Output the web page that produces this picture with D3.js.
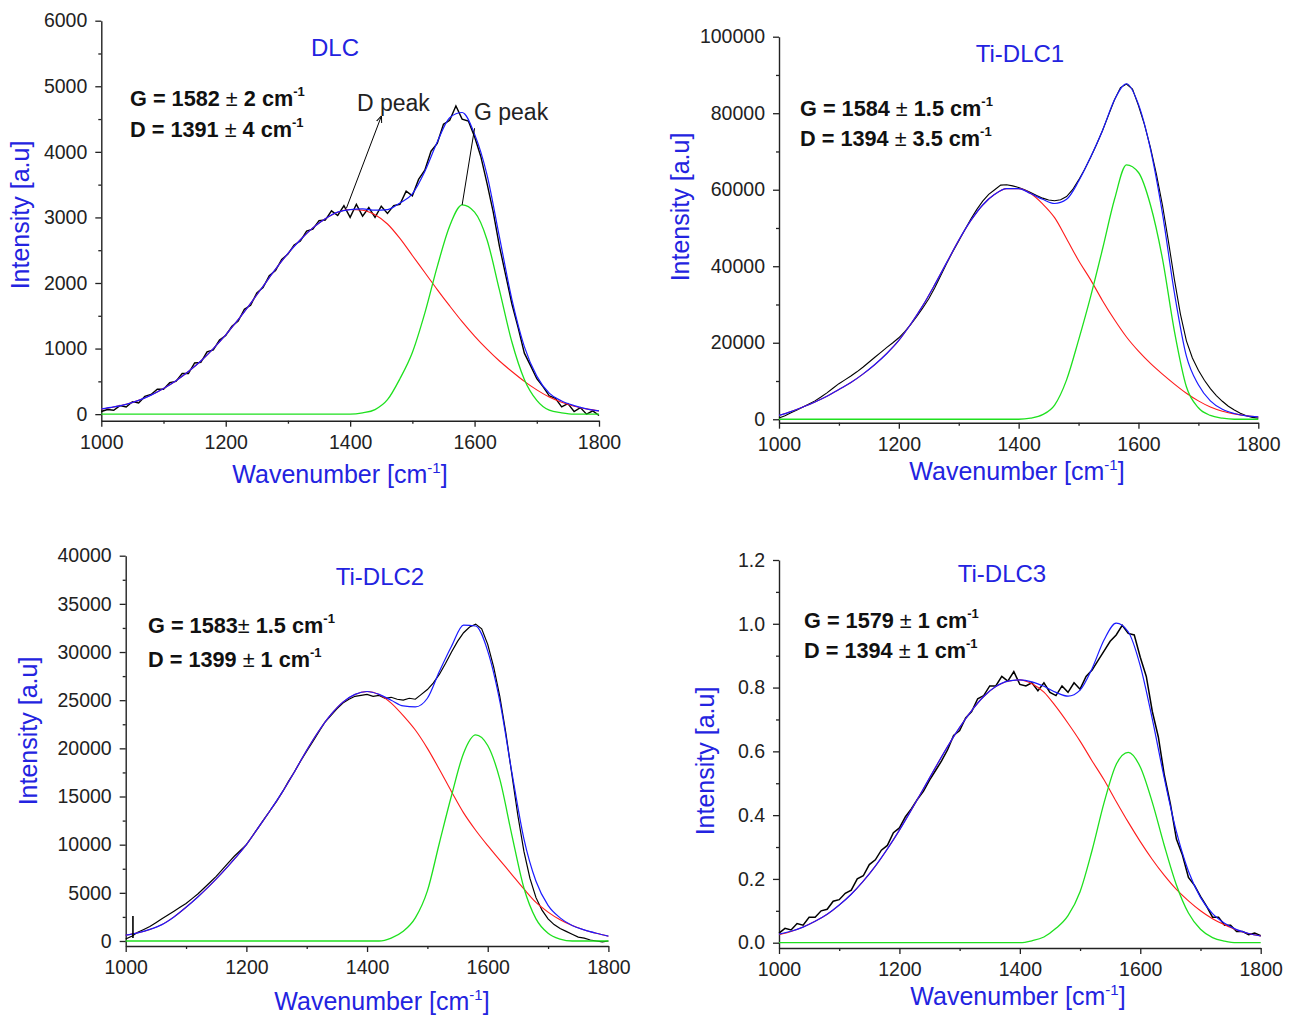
<!DOCTYPE html>
<html>
<head>
<meta charset="utf-8">
<script src="https://cdn.jsdelivr.net/npm/d3@7"></script>
<style>
  body { margin: 0; background: #fff; }
  svg { display: block; font-family: "Liberation Sans", Arial, sans-serif; }
</style>
</head>
<body>
<div class="canvas"></div>
<script>
// wavenumber grids (cm-1): fitted curves every 20, measured spectra every 10
const fitWave = d3.range(1000, 1801, 20);
const rawWave = d3.range(1000, 1801, 10);
const xTicks = [1000, 1200, 1400, 1600, 1800];
const xMinor = [1100, 1300, 1500, 1700];

// DLC
const dlcRaw = [40, 70, 60, 130, 110, 190, 170, 270, 300, 380,
  380, 480, 500, 620, 620, 780, 790, 950, 980, 1130,
  1200, 1340, 1420, 1600, 1660, 1850, 1930, 2110, 2190, 2360,
  2440, 2580, 2640, 2790, 2820, 2950, 2960, 3100, 3030, 3180,
  3000, 3200, 3020, 3150, 3000, 3170, 3060, 3180, 3200, 3400,
  3330, 3580, 3720, 4010, 4130, 4420, 4480, 4700, 4500, 4470,
  4230, 3930, 3520, 3080, 2560, 2120, 1680, 1320, 930, 740,
  540, 420, 280, 240, 110, 160, 40, 100, 0, 50,
  -20];
const dlcFit = [80, 110, 150, 210, 290, 390, 510, 650, 810, 1000, 1210, 1440, 1690, 1950, 2210, 2450, 2660, 2840, 2980, 3080, 3120,
  3130, 3110, 3120, 3220, 3360, 3700, 4150, 4520, 4600, 4270, 3650, 2700, 1750, 1030, 580, 320, 200, 130, 80, 50];
const dlcD = [80, 110, 150, 210, 290, 390, 510, 650, 810, 1000, 1210, 1440, 1690, 1950, 2210, 2450, 2660, 2840, 2980, 3080, 3120,
  3110, 3040, 2900, 2680, 2420, 2160, 1900, 1650, 1410, 1190, 990, 810, 650, 500, 370, 260, 180, 120, 80, 50];
const dlcG = [0, 0, 0, 0, 0, 0, 0, 0, 0, 0, 0, 0, 0, 0, 0, 0, 0, 0, 0, 0, 0,
  20, 70, 220, 540, 940, 1540, 2250, 2870, 3190, 3080, 2660, 1890, 1100, 530, 210, 60, 20, 0, 0, 0];
const dlcTicks = [0, 1000, 2000, 3000, 4000, 5000, 6000];
const dlcMinor = [500, 1500, 2500, 3500, 4500, 5500];

// Ti-DLC1
const ti1Raw = [300, 900, 1700, 2400, 3200, 4000, 4800, 5800, 6900, 8100,
  9300, 10300, 11300, 12400, 13600, 14900, 16200, 17500, 18800, 20000,
  21300, 22900, 24800, 26900, 29100, 31500, 34400, 37600, 40800, 43800,
  46600, 49500, 52300, 54800, 57000, 58800, 60000, 61200, 61300, 61000,
  60600, 60000, 59300, 58500, 57800, 57300, 57100, 57400, 58200, 60000,
  62500, 65300, 68400, 71800, 75500, 79500, 83500, 86700, 87600, 86300,
  82000, 77000, 71000, 64000, 56000, 46500, 36500, 27500, 20500, 16000,
  12800, 10200, 8000, 6200, 4700, 3400, 2400, 1600, 900, 500,
  300];
const ti1Fit = [1000, 2000, 3200, 4500, 6000, 7800, 9600, 11800, 14300, 17200, 20600, 24900, 29700, 35200, 41000, 46800, 51900, 56000, 58800, 60300, 60300,
  59000, 57500, 56400, 57500, 62200, 68500, 75500, 83500, 87700, 82300, 70600, 53800, 33000, 16500, 9000, 4800, 2600, 1500, 900, 600];
const ti1D = [1000, 2000, 3200, 4500, 6000, 7800, 9600, 11800, 14300, 17200, 20600, 24900, 29700, 35200, 41000, 46800, 51900, 56000, 58800, 60300, 60300,
  59000, 56300, 52700, 47200, 41500, 36500, 31000, 26000, 21500, 17800, 14600, 11800, 9200, 6800, 4800, 3200, 2100, 1400, 900, 600];
const ti1G = [0, 0, 0, 0, 0, 0, 0, 0, 0, 0, 0, 0, 0, 0, 0, 0, 0, 0, 0, 0, 0,
  300, 1200, 3700, 10300, 20700, 32000, 44500, 57500, 66500, 64500, 56000, 42000, 23000, 8500, 3000, 1000, 300, 0, 0, 0];
const ti1Ticks = [0, 20000, 40000, 60000, 80000, 100000];
const ti1Minor = [10000, 30000, 50000, 70000, 90000];

// Ti-DLC2
const ti2Raw = [200, 500, 900, 1200, 1500, 1900, 2300, 2700, 3100, 3500,
  3900, 4400, 4900, 5500, 6100, 6700, 7400, 8100, 8800, 9400,
  10000, 10900, 11800, 12700, 13600, 14500, 15500, 16600, 17600, 18700,
  19700, 20700, 21700, 22700, 23400, 24100, 24700, 25100, 25400, 25500,
  25600, 25400, 25500, 25200, 25300, 25100, 25000, 25200, 25100, 25600,
  26100, 26800, 27700, 28800, 30000, 31100, 32000, 32600, 32900, 32400,
  30800, 28400, 25400, 21600, 17300, 13000, 9300, 6500, 4500, 3200,
  2300, 1700, 1300, 1000, 700, 400, 300, 100, 0, -100,
  0];
const ti2Spike = [1012, 300, 2600];
const ti2Fit = [600, 850, 1200, 1700, 2500, 3500, 4600, 5800, 7100, 8500, 10000, 11800, 13600, 15500, 17600, 19800, 21800, 23500, 24800, 25600, 25900,
  25600, 25000, 24400, 24300, 25200, 28000, 30600, 32800, 32700, 30100, 24900, 17500, 10600, 6200, 3700, 2400, 1600, 1150, 800, 500];
const ti2D = [600, 850, 1200, 1700, 2500, 3500, 4600, 5800, 7100, 8500, 10000, 11800, 13600, 15500, 17600, 19800, 21800, 23500, 24800, 25600, 25900,
  25600, 24700, 23400, 21900, 20000, 17800, 15500, 13300, 11500, 9900, 8400, 6900, 5400, 4000, 3000, 2200, 1600, 1150, 800, 500];
const ti2G = [0, 0, 0, 0, 0, 0, 0, 0, 0, 0, 0, 0, 0, 0, 0, 0, 0, 0, 0, 0, 0,
  0, 300, 1000, 2400, 5200, 10200, 15100, 19500, 21400, 20300, 16800, 11000, 5500, 2300, 800, 200, 0, 0, 0, 0];
const ti2Ticks = [0, 5000, 10000, 15000, 20000, 25000, 30000, 35000, 40000];
const ti2Minor = [2500, 7500, 12500, 17500, 22500, 27500, 32500, 37500];

// Ti-DLC3
const ti3Raw = [0.030, 0.045, 0.040, 0.060, 0.055, 0.080, 0.080, 0.100, 0.105, 0.130,
  0.135, 0.155, 0.165, 0.200, 0.210, 0.245, 0.260, 0.290, 0.305, 0.345,
  0.360, 0.395, 0.420, 0.450, 0.475, 0.510, 0.540, 0.570, 0.605, 0.650,
  0.665, 0.705, 0.725, 0.765, 0.775, 0.805, 0.805, 0.835, 0.820, 0.850,
  0.810, 0.805, 0.815, 0.790, 0.815, 0.785, 0.775, 0.805, 0.785, 0.815,
  0.795, 0.835, 0.855, 0.885, 0.915, 0.945, 0.965, 0.995, 0.970, 0.965,
  0.895, 0.835, 0.725, 0.645, 0.525, 0.435, 0.325, 0.275, 0.205, 0.180,
  0.145, 0.115, 0.080, 0.080, 0.055, 0.055, 0.035, 0.035, 0.025, 0.030,
  0.022];
const ti3Fit = [0.027, 0.036, 0.049, 0.067, 0.089, 0.118, 0.152, 0.193, 0.240, 0.294, 0.353, 0.417, 0.483, 0.550, 0.615, 0.675, 0.728, 0.772, 0.803, 0.820, 0.824,
  0.818, 0.804, 0.785, 0.773, 0.792, 0.860, 0.950, 1.002, 0.975, 0.868, 0.701, 0.515, 0.348, 0.224, 0.142, 0.091, 0.061, 0.041, 0.029, 0.021];
const ti3D = [0.025, 0.035, 0.049, 0.067, 0.089, 0.118, 0.152, 0.193, 0.240, 0.294, 0.353, 0.417, 0.483, 0.550, 0.615, 0.675, 0.728, 0.772, 0.803, 0.820, 0.824,
  0.812, 0.786, 0.740, 0.688, 0.632, 0.570, 0.510, 0.443, 0.378, 0.317, 0.261, 0.211, 0.167, 0.131, 0.100, 0.075, 0.056, 0.040, 0.029, 0.021];
const ti3G = [0, 0, 0, 0, 0, 0, 0, 0, 0, 0, 0, 0, 0, 0, 0, 0, 0, 0, 0, 0, 0,
  0.006, 0.018, 0.045, 0.085, 0.160, 0.290, 0.440, 0.559, 0.597, 0.551, 0.440, 0.304, 0.181, 0.093, 0.042, 0.016, 0.005, 0, 0, 0];
const ti3Ticks = [0, 0.2, 0.4, 0.6, 0.8, 1.0, 1.2];
const ti3Minor = [0.1, 0.3, 0.5, 0.7, 0.9, 1.1];

// panel texts
const titles = ['DLC', 'Ti-DLC1', 'Ti-DLC2', 'Ti-DLC3'];
const gNotes = ['G = 1582 ± 2 cm', 'G = 1584 ± 1.5 cm', 'G = 1583± 1.5 cm', 'G = 1579 ± 1 cm'];
const dNotes = ['D = 1391 ± 4 cm', 'D = 1394 ± 3.5 cm', 'D = 1399 ± 1 cm', 'D = 1394 ± 1 cm'];

// D / G peak pointers on the DLC panel: [wavenumber, intensity] from -> to
const dPointer = [[1394, 3140], [1450, 4540]];
const gPointer = [[1580, 3190], [1600, 4360]];

// panel geometry (pixels)
const panels = [
  { raw: dlcRaw, fit: dlcFit, d: dlcD, g: dlcG, ticks: dlcTicks, minor: dlcMinor, fmt: d3.format('d'), rawWidth: 1.4,
    left: 101.3, right: 599, top: 20.7, bottom: 420.7, yMin: -100, yMax: 6000,
    title: [335, 56], notes: [130, 106, 137], yLab: [29, 215], xLab: [340, 483] },
  { raw: ti1Raw, fit: ti1Fit, d: ti1D, g: ti1G, ticks: ti1Ticks, minor: ti1Minor, fmt: d3.format('d'), rawWidth: 1.1,
    left: 779, right: 1258.3, top: 36.7, bottom: 422.7, yMin: -900, yMax: 100000,
    title: [1020, 62], notes: [800, 116, 146], yLab: [689, 207], xLab: [1017, 480] },
  { raw: ti2Raw, fit: ti2Fit, d: ti2D, g: ti2G, ticks: ti2Ticks, minor: ti2Minor, fmt: d3.format('d'), rawWidth: 1.2,
    left: 125.7, right: 608.4, top: 555.7, bottom: 946, yMin: -520, yMax: 40000,
    title: [380, 585], notes: [148, 633, 667], yLab: [37, 731], xLab: [382, 1010] },
  { raw: ti3Raw, fit: ti3Fit, d: ti3D, g: ti3G, ticks: ti3Ticks, minor: ti3Minor, fmt: d3.format('.1f'), rawWidth: 1.5,
    left: 779, right: 1260.7, top: 560, bottom: 948, yMin: -0.0166, yMax: 1.2,
    title: [1002, 582], notes: [804, 628, 658], yLab: [714, 761], xLab: [1018, 1005] }
];

const blue = '#2323e0';

const svg = d3.select('.canvas')
  .append('svg')
    .attr('width', 1300)
    .attr('height', 1019);

svg.append('defs').append('marker')
    .attr('id', 'arrow')
    .attr('viewBox', '0 0 10 10')
    .attr('refX', 9)
    .attr('refY', 5)
    .attr('markerWidth', 7)
    .attr('markerHeight', 7)
    .attr('orient', 'auto')
  .append('path')
    .attr('d', 'M0,1 L10,5 L0,9')
    .attr('fill', 'none')
    .attr('stroke', '#000')
    .attr('stroke-width', 1.4);

panels.forEach((p, k) => {
  const x = d3.scaleLinear().domain([1000, 1800]).range([p.left, p.right]);
  const y = d3.scaleLinear().domain([p.yMin, p.yMax]).range([p.bottom, p.top]);
  const g = svg.append('g');

  // minor ticks first, then major axes on top
  g.append('g')
      .attr('transform', `translate(0,${p.bottom})`)
      .call(d3.axisBottom(x).tickValues(xMinor).tickSize(3).tickSizeOuter(0).tickFormat(''))
      .call(a => a.select('.domain').remove());
  g.append('g')
      .attr('transform', `translate(${p.left},0)`)
      .call(d3.axisLeft(y).tickValues(p.minor).tickSize(3).tickSizeOuter(0).tickFormat(''))
      .call(a => a.select('.domain').remove());

  const xAxis = g.append('g')
      .attr('transform', `translate(0,${p.bottom})`)
      .call(d3.axisBottom(x).tickValues(xTicks).tickSize(6).tickSizeOuter(0).tickPadding(8).tickFormat(d3.format('d')));
  const yAxis = g.append('g')
      .attr('transform', `translate(${p.left},0)`)
      .call(d3.axisLeft(y).tickValues(p.ticks).tickSize(6).tickSizeOuter(0).tickPadding(8).tickFormat(p.fmt));

  [xAxis, yAxis].forEach(a => {
    a.attr('font-family', null).attr('font-size', 19.5).attr('color', '#222');
    a.selectAll('path, line').attr('stroke', '#222').attr('stroke-width', 1.4);
  });
  g.selectAll('.tick line').attr('stroke', '#222').attr('stroke-width', 1.3);

  // spectra and fitted bands
  const fitLine = d3.line()
    .x((d, i) => x(fitWave[i]))
    .y(d => y(d))
    .curve(d3.curveMonotoneX);
  const rawLine = d3.line()
    .x((d, i) => x(rawWave[i]))
    .y(d => y(d));

  g.append('path').attr('d', rawLine(p.raw))
    .attr('fill', 'none').attr('stroke', '#000').attr('stroke-width', p.rawWidth);
  g.append('path').attr('d', fitLine(p.d))
    .attr('fill', 'none').attr('stroke', '#ff1a1a').attr('stroke-width', 1.1);
  g.append('path').attr('d', fitLine(p.g))
    .attr('fill', 'none').attr('stroke', '#1ee01e').attr('stroke-width', 1.3);
  g.append('path').attr('d', fitLine(p.fit))
    .attr('fill', 'none').attr('stroke', '#1a1aff').attr('stroke-width', 1.2);

  if (k === 2) {
    g.append('line')
      .attr('x1', x(ti2Spike[0])).attr('x2', x(ti2Spike[0]))
      .attr('y1', y(ti2Spike[1])).attr('y2', y(ti2Spike[2]))
      .attr('stroke', '#000').attr('stroke-width', 1.6);
  }

  if (k === 0) {
    g.append('line')
      .attr('x1', x(dPointer[0][0])).attr('y1', y(dPointer[0][1]))
      .attr('x2', x(dPointer[1][0])).attr('y2', y(dPointer[1][1]))
      .attr('stroke', '#000').attr('stroke-width', 1)
      .attr('marker-end', 'url(#arrow)');
    g.append('line')
      .attr('x1', x(gPointer[0][0])).attr('y1', y(gPointer[0][1]))
      .attr('x2', x(gPointer[1][0])).attr('y2', y(gPointer[1][1]))
      .attr('stroke', '#000').attr('stroke-width', 1);
    g.append('text').attr('x', 357).attr('y', 111)
      .attr('font-size', 23).attr('fill', '#222').text('D peak');
    g.append('text').attr('x', 474).attr('y', 120)
      .attr('font-size', 23).attr('fill', '#222').text('G peak');
  }

  // title
  g.append('text')
    .attr('x', p.title[0]).attr('y', p.title[1])
    .attr('text-anchor', 'middle')
    .attr('font-size', 24)
    .attr('fill', blue)
    .text(titles[k]);

  // peak positions
  [gNotes[k], dNotes[k]].forEach((s, j) => {
    const parts = s.split('±');
    const t = g.append('text')
      .attr('x', p.notes[0]).attr('y', p.notes[j + 1])
      .attr('font-size', 21.7)
      .attr('font-weight', 'bold')
      .attr('fill', '#111');
    t.append('tspan').text(parts[0]);
    t.append('tspan').attr('font-weight', 'normal').text('±');
    t.append('tspan').text(parts[1]);
    t.append('tspan').attr('font-size', 13).attr('dy', -10).text('-1');
  });

  // axis titles
  g.append('text')
    .attr('transform', `translate(${p.yLab[0]},${p.yLab[1]}) rotate(-90)`)
    .attr('text-anchor', 'middle')
    .attr('font-size', 25)
    .attr('fill', blue)
    .text('Intensity [a.u]');

  const xt = g.append('text')
    .attr('x', p.xLab[0]).attr('y', p.xLab[1])
    .attr('text-anchor', 'middle')
    .attr('font-size', 25)
    .attr('fill', blue);
  xt.append('tspan').text('Wavenumber [cm');
  xt.append('tspan').attr('font-size', 15).attr('dy', -10).text('-1');
  xt.append('tspan').attr('dy', 10).text(']');
});
</script>
</body>
</html>
